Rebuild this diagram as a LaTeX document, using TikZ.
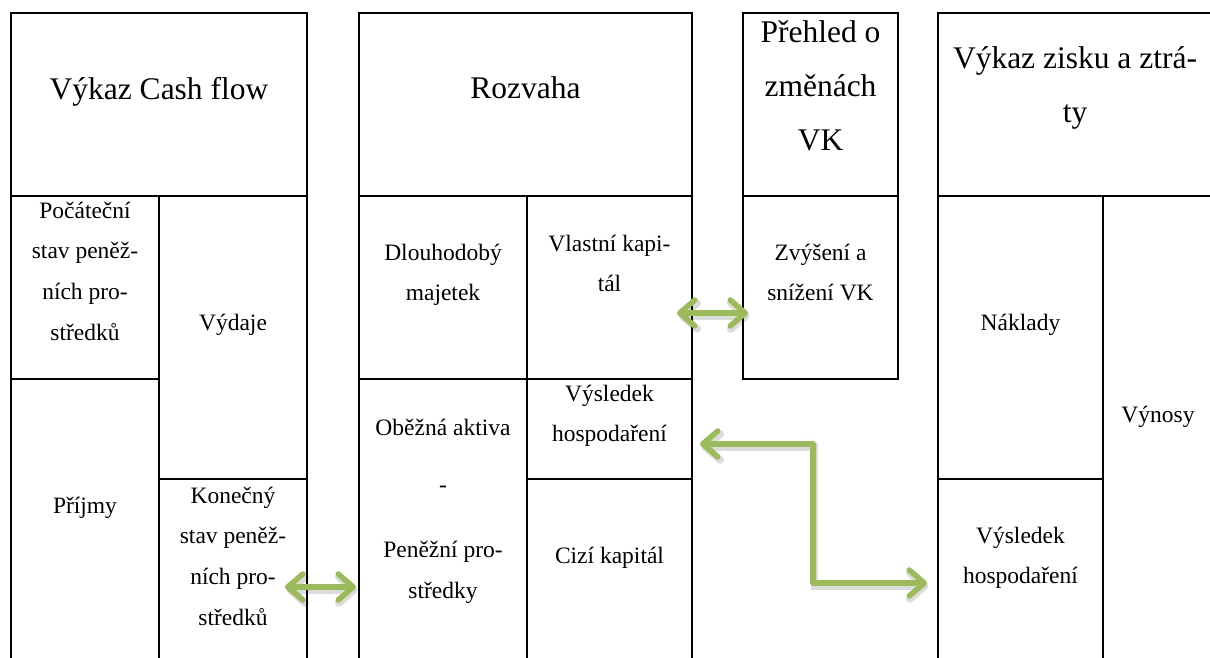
\documentclass[tikz,border=0pt]{standalone}
\usepackage{fontspec}
\setmainfont{Liberation Serif}
\usetikzlibrary{arrows.meta,fit}
\definecolor{arrowgreen}{HTML}{9BBB59}
\newcommand{\ml}[1]{\begin{tabular}[t]{@{}c@{}}#1\end{tabular}}
\begin{document}
\begin{tikzpicture}[x=1pt,y=-1pt,
  cell/.style={draw, line width=1.4pt, inner sep=0pt, outer sep=0pt},
  head/.style={anchor=base, inner sep=0pt, font=\fontsize{31.5}{54}\selectfont},
  body/.style={anchor=base, inner sep=0pt, font=\fontsize{23.5}{40.7}\selectfont},
  link/.style={draw=arrowgreen, line width=5.5pt, line cap=round, line join=round,
    >={Straight Barb[length=15pt,width=26pt,round]}, <->,
    preaction={draw=black, draw opacity=0.14, line width=7.5pt,
      transform canvas={shift={(1.5pt,-3pt)}}}}]
\useasboundingbox (0,0) rectangle (1210,657);
\clip (0,0) rectangle (1210,657);
% Column 1: Vykaz Cash flow
\node[cell, fit={(11,13) (307,196)}] (cfhead) {};
\node[cell, fit={(11,196) (159,379)}] (cfpoc) {};
\node[cell, fit={(11,379) (159,675)}] (cfpri) {};
\node[cell, fit={(159,196) (307,479)}] (cfvyd) {};
\node[cell, fit={(159,479) (307,675)}] (cfkon) {};
% Column 2: Rozvaha
\node[cell, fit={(359,13) (692,196)}] (rzhead) {};
\node[cell, fit={(359,196) (527,379)}] (rzdm) {};
\node[cell, fit={(359,379) (527,675)}] (rzoa) {};
\node[cell, fit={(527,196) (692,379)}] (rzvk) {};
\node[cell, fit={(527,379) (692,479)}] (rzvh) {};
\node[cell, fit={(527,479) (692,675)}] (rzck) {};
% Column 3: Prehled o zmenach VK
\node[cell, fit={(743,13) (898,196)}] (pvhead) {};
\node[cell, fit={(743,196) (898,379)}] (pvzs) {};
% Column 4: Vykaz zisku a ztraty
\node[cell, fit={(938,13) (1214,196)}] (vzhead) {};
\node[cell, fit={(938,196) (1103,479)}] (vznak) {};
\node[cell, fit={(938,479) (1103,675)}] (vzvh) {};
\node[cell, fit={(1103,196) (1214,675)}] (vzvyn) {};
% Texts
\node[head] (tcf) at (159,99) {Výkaz Cash flow};
\node[body] (tpoc) at (85,218) {\ml{Počáteční\\stav peněž-\\ních pro-\\středků}};
\node[body] (tvyd) at (233,330) {Výdaje};
\node[body] (tpri) at (85,513) {Příjmy};
\node[body] (tkon) at (233,503) {\ml{Konečný\\stav peněž-\\ních pro-\\středků}};
\node[head] (trz) at (525.5,98) {Rozvaha};
\node[body] (tdm) at (443,260) {\ml{Dlouhodobý\\majetek}};
\node[body] (tvk) at (609.5,251) {\ml{Vlastní kapi-\\tál}};
\node[body] (tvh) at (609.5,401) {\ml{Výsledek\\hospodaření}};
\node[body] (toa) at (443,435) {\ml{Oběžná aktiva\\[17pt]-\\[24pt]Peněžní pro-\\středky}};
\node[body] (tck) at (609.5,563) {Cizí kapitál};
\node[head] (tpv) at (820.5,42) {\ml{Přehled o\\změnách\\VK}};
\node[body] (tzs) at (820.5,260) {\ml{Zvýšení a\\snížení VK}};
\node[head] (tvz) at (1075,68) {\ml{Výkaz zisku a ztrá-\\ty}};
\node[body] (tnak) at (1020.5,330) {Náklady};
\node[body] (tvyn) at (1158,422) {Výnosy};
\node[body] (tvh2) at (1020.5,543) {\ml{Výsledek\\hospodaření}};
% Arrows
\coordinate (a1l) at (285,587);
\coordinate (a1r) at (356,587);
\coordinate (a2l) at (677,313);
\coordinate (a2r) at (748,313);
\coordinate (a3l) at (700,444);
\coordinate (a3m) at (813,444);
\coordinate (a3r) at (927,583);
\draw[link] (a1l) -- (a1r);
\draw[link] (a2l) -- (a2r);
\draw[link] (a3l) -- (a3m) |- (a3r);
\end{tikzpicture}
\end{document}
